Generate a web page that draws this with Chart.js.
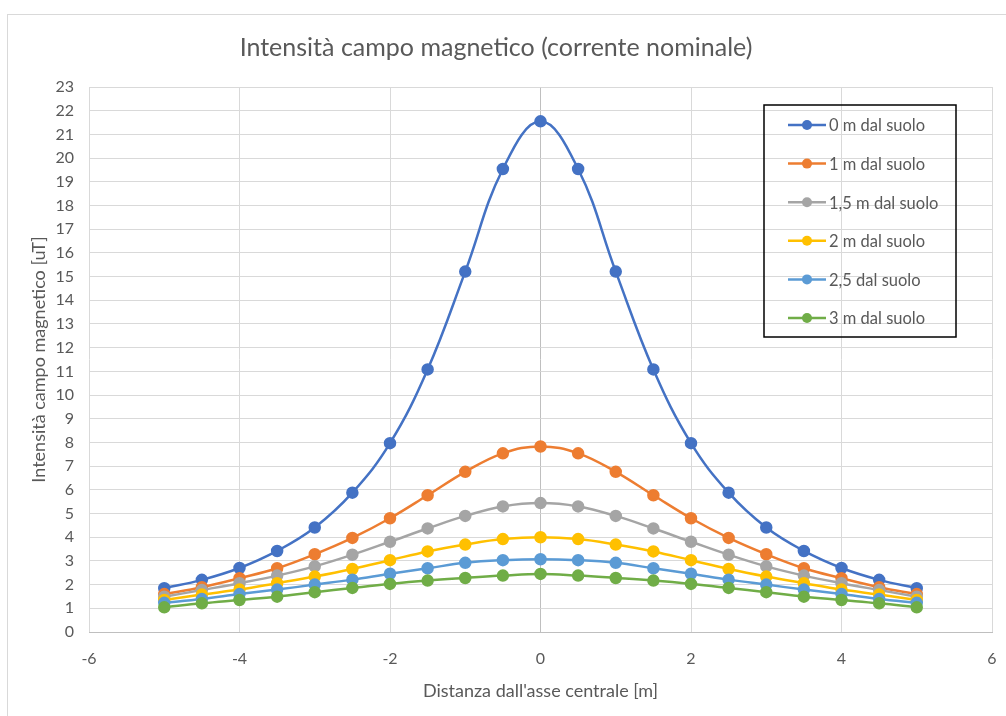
<!DOCTYPE html>
<html>
<head>
<meta charset="utf-8">
<script src="https://cdn.jsdelivr.net/npm/chart.js@4/dist/chart.umd.min.js"></script>
<style>
  html, body { margin: 0; padding: 0; background: #fff; overflow: hidden; }
  #frame { position: absolute; left: 7px; top: 14px; width: 1100px; height: 800px;
           border-left: 1px solid #d9d9d9; border-top: 1px solid #d9d9d9; }
  #wrap { position: absolute; left: 0; top: 0; width: 1006px; height: 716px; }
</style>
</head>
<body>
<div id="frame"></div>
<div id="wrap"><canvas id="chart" width="1006" height="716"></canvas></div>
<script>
const FONT = 'Lato, "Open Sans", sans-serif';
const TXT = '#595959';

// distanza dall'asse centrale [m]
const distances = [-5, -4.5, -4, -3.5, -3, -2.5, -2, -1.5, -1, -0.5, 0, 0.5, 1, 1.5, 2, 2.5, 3, 3.5, 4, 4.5, 5];

const h0   = [1.85, 2.2, 2.7, 3.42, 4.41, 5.88, 7.97, 11.08, 15.21, 19.54, 21.55, 19.54, 15.21, 11.08, 7.97, 5.88, 4.41, 3.42, 2.7, 2.2, 1.85];
const h1   = [1.6, 1.89, 2.27, 2.69, 3.28, 3.97, 4.8, 5.77, 6.76, 7.54, 7.83, 7.54, 6.76, 5.77, 4.8, 3.97, 3.28, 2.69, 2.27, 1.89, 1.6];
const h1_5 = [1.49, 1.77, 2.06, 2.38, 2.77, 3.26, 3.81, 4.37, 4.9, 5.3, 5.44, 5.3, 4.9, 4.37, 3.81, 3.26, 2.77, 2.38, 2.06, 1.77, 1.49];
const h2   = [1.35, 1.58, 1.79, 2.06, 2.34, 2.66, 3.03, 3.4, 3.69, 3.92, 4.0, 3.92, 3.69, 3.4, 3.03, 2.66, 2.34, 2.06, 1.79, 1.58, 1.35];
const h2_5 = [1.23, 1.39, 1.6, 1.79, 2.0, 2.21, 2.46, 2.69, 2.92, 3.03, 3.07, 3.03, 2.92, 2.69, 2.46, 2.21, 2.0, 1.79, 1.6, 1.39, 1.23];
const h3   = [1.04, 1.21, 1.35, 1.49, 1.68, 1.86, 2.03, 2.17, 2.28, 2.38, 2.45, 2.38, 2.28, 2.17, 2.03, 1.86, 1.68, 1.49, 1.35, 1.21, 1.04];

const seriesNames  = ['0 m dal suolo', '1 m dal suolo', '1,5 m dal suolo', '2 m dal suolo', '2,5 dal suolo', '3 m dal suolo'];
const seriesValues = [h0, h1, h1_5, h2, h2_5, h3];
const seriesColors = ['#4472C4', '#ED7D31', '#A5A5A5', '#FFC000', '#5B9BD5', '#70AD47'];

const xTicks = { min: -6, max: 6, step: 2 };
const yTicks = { min: 0, max: 23, step: 1 };

const datasets = seriesValues.map((vals, i) => ({
  label: seriesNames[i],
  data: vals.map((v, k) => ({ x: distances[k], y: v })),
  borderColor: seriesColors[i],
  backgroundColor: seriesColors[i],
  borderWidth: 2.5,
  pointRadius: 5,
  pointHoverRadius: 5,
  tension: 0.4,
  showLine: true,
  order: seriesValues.length - i   // serie successive disegnate sopra
}));

// legenda disegnata a mano nel riquadro in alto a destra
const boxLegend = {
  id: 'boxLegend',
  afterDraw(chart) {
    const c = chart.ctx;
    const x0 = 764, y0 = 105, w = 192, h = 232;
    c.save();
    c.strokeStyle = '#000';
    c.lineWidth = 1.5;
    c.strokeRect(x0, y0, w, h);
    c.font = '16.5px ' + FONT;
    c.textBaseline = 'middle';
    chart.data.datasets.forEach((ds, i) => {
      const y = 125 + i * 38.6;
      c.strokeStyle = ds.borderColor;
      c.lineWidth = 2.5;
      c.beginPath();
      c.moveTo(788, y);
      c.lineTo(826, y);
      c.stroke();
      c.fillStyle = ds.backgroundColor;
      c.beginPath();
      c.arc(807, y, 5, 0, Math.PI * 2);
      c.fill();
      c.fillStyle = TXT;
      c.fillText(ds.label, 829, y + 1);
    });
    c.restore();
  }
};

new Chart(document.getElementById('chart'), {
  type: 'scatter',
  data: { datasets },
  plugins: [boxLegend],
  options: {
    responsive: false,
    animation: false,
    layout: { padding: { left: 0, right: 14, top: 0, bottom: 0 } },
    plugins: {
      legend: { display: false },
      tooltip: { enabled: false },
      title: {
        display: true,
        text: 'Intensità campo magnetico (corrente nominale)',
        color: TXT,
        font: { family: FONT, size: 25, weight: 'normal' },
        padding: { top: 33, bottom: 24 }
      }
    },
    scales: {
      x: {
        type: 'linear',
        min: xTicks.min,
        max: xTicks.max,
        // il padding dei tick non deve restringere l'area del grafico a destra
        afterFit: s => { s.height = 84; s.paddingLeft = 0; s.paddingRight = 0; },
        ticks: {
          stepSize: xTicks.step,
          color: TXT,
          padding: 17,
          font: { family: FONT, size: 16 }
        },
        grid: {
          drawTicks: false,
          color: ctx => (ctx.tick && ctx.tick.value === 0) ? '#bfbfbf' : '#d9d9d9',
          lineWidth: 1
        },
        border: { color: '#bfbfbf' },
        title: {
          display: true,
          text: "Distanza dall'asse centrale [m]",
          color: TXT,
          font: { family: FONT, size: 18 },
          padding: { top: 0, bottom: 14 }
        }
      },
      y: {
        min: yTicks.min,
        max: yTicks.max,
        afterFit: s => { s.width = 89; },
        ticks: {
          stepSize: yTicks.step,
          color: TXT,
          padding: 15,
          font: { family: FONT, size: 16 }
        },
        grid: { drawTicks: false, color: '#d9d9d9' },
        border: { display: false },
        title: {
          display: true,
          text: 'Intensità campo magnetico [uT]',
          color: TXT,
          font: { family: FONT, size: 18 },
          padding: { top: 28, bottom: 0 }
        }
      }
    }
  }
});
</script>
</body>
</html>
